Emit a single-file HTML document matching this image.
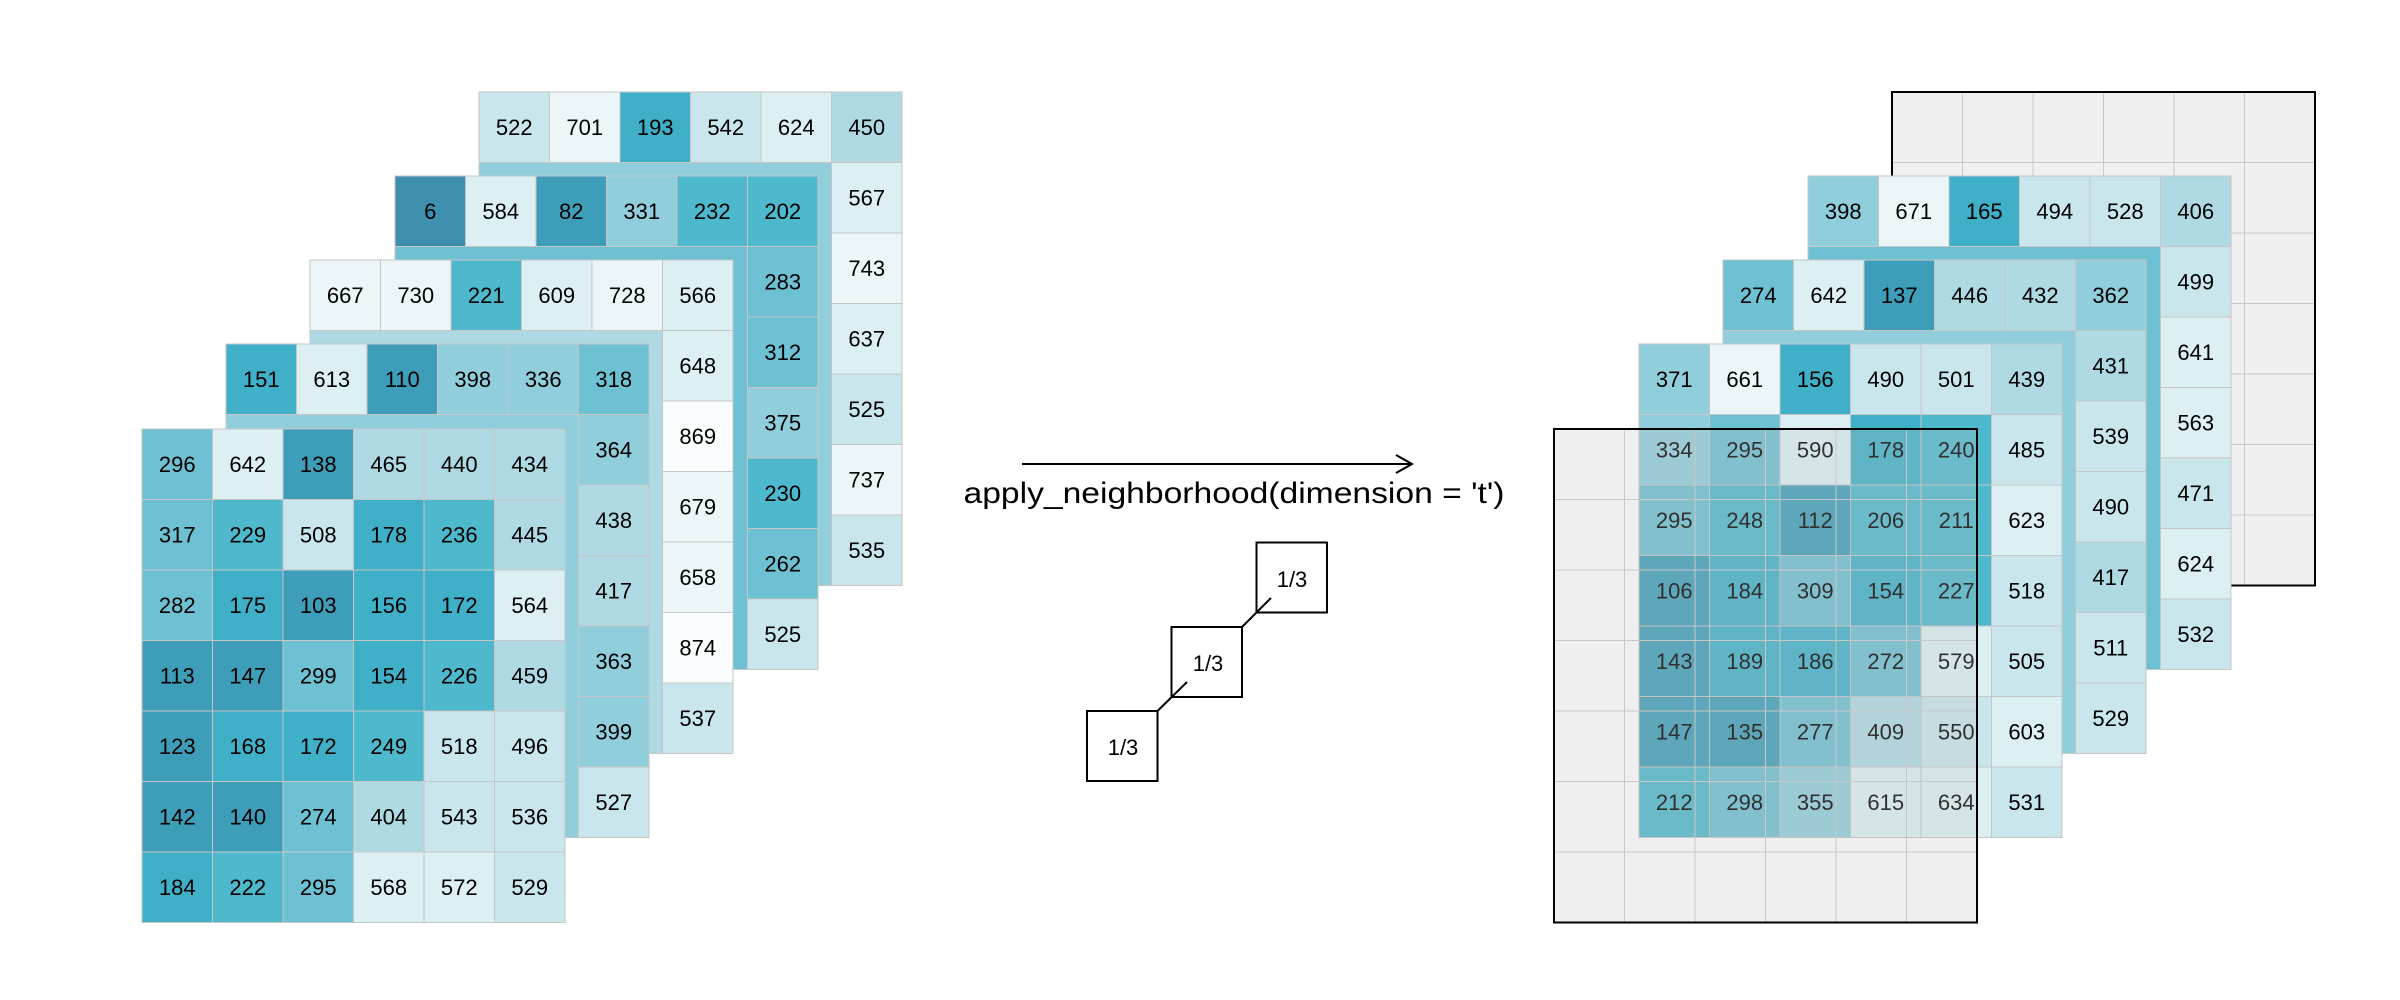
<!DOCTYPE html>
<html><head><meta charset="utf-8"><style>
html,body{margin:0;padding:0;background:#fff;}
svg{display:block;}
text{font-family:"Liberation Sans",sans-serif;font-size:22px;text-anchor:middle;fill:#000;}
.k rect{stroke:#c6c6c6;stroke-width:1;}
.c0{fill:#3e8fae}.c1{fill:#3e9eb9}.c2{fill:#3fb0c8}.c3{fill:#4eb9cc}.c4{fill:#6ec1d3}.c5{fill:#91cedc}.c6{fill:#afdae4}.c7{fill:#c9e6ec}.c8{fill:#dcf0f4}.c9{fill:#ecf6f9}.c10{fill:#fafdfe}
.bd{fill:none;stroke:#000;stroke-width:2}
.gl{stroke:#c8c8c8;stroke-width:1;fill:none}
</style></head><body>
<svg width="2400" height="1000" viewBox="0 0 2400 1000" xmlns="http://www.w3.org/2000/svg">
<defs>
<path id="grid" d="M70.5 0V493.5M141 0V493.5M211.5 0V493.5M282 0V493.5M352.5 0V493.5M0 70.5H423M0 141H423M0 211.5H423M0 282H423M0 352.5H423M0 423H423"/>
</defs>

<!-- LEFT L5 -->
<g class="k" transform="translate(479,92)">
<rect width="423" height="493.5" class="c5"/>
<rect x="0" y="0" width="70.5" height="70.5" class="c7"/><text x="35.25" y="43">522</text>
<rect x="70.5" y="0" width="70.5" height="70.5" class="c9"/><text x="105.75" y="43">701</text>
<rect x="141" y="0" width="70.5" height="70.5" class="c2"/><text x="176.25" y="43">193</text>
<rect x="211.5" y="0" width="70.5" height="70.5" class="c7"/><text x="246.75" y="43">542</text>
<rect x="282" y="0" width="70.5" height="70.5" class="c8"/><text x="317.25" y="43">624</text>
<rect x="352.5" y="0" width="70.5" height="70.5" class="c6"/><text x="387.75" y="43">450</text>
<rect x="352.5" y="70.5" width="70.5" height="70.5" class="c8"/><text x="387.75" y="113.5">567</text>
<rect x="352.5" y="141" width="70.5" height="70.5" class="c9"/><text x="387.75" y="184">743</text>
<rect x="352.5" y="211.5" width="70.5" height="70.5" class="c8"/><text x="387.75" y="254.5">637</text>
<rect x="352.5" y="282" width="70.5" height="70.5" class="c7"/><text x="387.75" y="325">525</text>
<rect x="352.5" y="352.5" width="70.5" height="70.5" class="c9"/><text x="387.75" y="395.5">737</text>
<rect x="352.5" y="423" width="70.5" height="70.5" class="c7"/><text x="387.75" y="466">535</text>
<rect width="423" height="493.5" class="bd"/>
</g>

<!-- LEFT L4 -->
<g class="k" transform="translate(395,176)">
<rect width="423" height="493.5" class="c4"/>
<rect x="0" y="0" width="70.5" height="70.5" class="c0"/><text x="35.25" y="43">6</text>
<rect x="70.5" y="0" width="70.5" height="70.5" class="c8"/><text x="105.75" y="43">584</text>
<rect x="141" y="0" width="70.5" height="70.5" class="c1"/><text x="176.25" y="43">82</text>
<rect x="211.5" y="0" width="70.5" height="70.5" class="c5"/><text x="246.75" y="43">331</text>
<rect x="282" y="0" width="70.5" height="70.5" class="c3"/><text x="317.25" y="43">232</text>
<rect x="352.5" y="0" width="70.5" height="70.5" class="c3"/><text x="387.75" y="43">202</text>
<rect x="352.5" y="70.5" width="70.5" height="70.5" class="c4"/><text x="387.75" y="113.5">283</text>
<rect x="352.5" y="141" width="70.5" height="70.5" class="c4"/><text x="387.75" y="184">312</text>
<rect x="352.5" y="211.5" width="70.5" height="70.5" class="c5"/><text x="387.75" y="254.5">375</text>
<rect x="352.5" y="282" width="70.5" height="70.5" class="c3"/><text x="387.75" y="325">230</text>
<rect x="352.5" y="352.5" width="70.5" height="70.5" class="c4"/><text x="387.75" y="395.5">262</text>
<rect x="352.5" y="423" width="70.5" height="70.5" class="c7"/><text x="387.75" y="466">525</text>
<rect width="423" height="493.5" class="bd"/>
</g>

<!-- LEFT L3 -->
<g class="k" transform="translate(310,260)">
<rect width="423" height="493.5" class="c6"/>
<rect x="0" y="0" width="70.5" height="70.5" class="c9"/><text x="35.25" y="43">667</text>
<rect x="70.5" y="0" width="70.5" height="70.5" class="c9"/><text x="105.75" y="43">730</text>
<rect x="141" y="0" width="70.5" height="70.5" class="c3"/><text x="176.25" y="43">221</text>
<rect x="211.5" y="0" width="70.5" height="70.5" class="c8"/><text x="246.75" y="43">609</text>
<rect x="282" y="0" width="70.5" height="70.5" class="c9"/><text x="317.25" y="43">728</text>
<rect x="352.5" y="0" width="70.5" height="70.5" class="c8"/><text x="387.75" y="43">566</text>
<rect x="352.5" y="70.5" width="70.5" height="70.5" class="c8"/><text x="387.75" y="113.5">648</text>
<rect x="352.5" y="141" width="70.5" height="70.5" class="c10"/><text x="387.75" y="184">869</text>
<rect x="352.5" y="211.5" width="70.5" height="70.5" class="c9"/><text x="387.75" y="254.5">679</text>
<rect x="352.5" y="282" width="70.5" height="70.5" class="c9"/><text x="387.75" y="325">658</text>
<rect x="352.5" y="352.5" width="70.5" height="70.5" class="c10"/><text x="387.75" y="395.5">874</text>
<rect x="352.5" y="423" width="70.5" height="70.5" class="c7"/><text x="387.75" y="466">537</text>
<rect width="423" height="493.5" class="bd"/>
</g>

<!-- LEFT L2 -->
<g class="k" transform="translate(226,344)">
<rect width="423" height="493.5" class="c5"/>
<rect x="0" y="0" width="70.5" height="70.5" class="c2"/><text x="35.25" y="43">151</text>
<rect x="70.5" y="0" width="70.5" height="70.5" class="c8"/><text x="105.75" y="43">613</text>
<rect x="141" y="0" width="70.5" height="70.5" class="c1"/><text x="176.25" y="43">110</text>
<rect x="211.5" y="0" width="70.5" height="70.5" class="c5"/><text x="246.75" y="43">398</text>
<rect x="282" y="0" width="70.5" height="70.5" class="c5"/><text x="317.25" y="43">336</text>
<rect x="352.5" y="0" width="70.5" height="70.5" class="c4"/><text x="387.75" y="43">318</text>
<rect x="352.5" y="70.5" width="70.5" height="70.5" class="c5"/><text x="387.75" y="113.5">364</text>
<rect x="352.5" y="141" width="70.5" height="70.5" class="c6"/><text x="387.75" y="184">438</text>
<rect x="352.5" y="211.5" width="70.5" height="70.5" class="c6"/><text x="387.75" y="254.5">417</text>
<rect x="352.5" y="282" width="70.5" height="70.5" class="c5"/><text x="387.75" y="325">363</text>
<rect x="352.5" y="352.5" width="70.5" height="70.5" class="c5"/><text x="387.75" y="395.5">399</text>
<rect x="352.5" y="423" width="70.5" height="70.5" class="c7"/><text x="387.75" y="466">527</text>
<rect width="423" height="493.5" class="bd"/>
</g>

<!-- LEFT L1 -->
<g class="k" transform="translate(142,429)">
<rect x="0" y="0" width="70.5" height="70.5" class="c4"/><text x="35.25" y="43">296</text>
<rect x="70.5" y="0" width="70.5" height="70.5" class="c8"/><text x="105.75" y="43">642</text>
<rect x="141" y="0" width="70.5" height="70.5" class="c1"/><text x="176.25" y="43">138</text>
<rect x="211.5" y="0" width="70.5" height="70.5" class="c6"/><text x="246.75" y="43">465</text>
<rect x="282" y="0" width="70.5" height="70.5" class="c6"/><text x="317.25" y="43">440</text>
<rect x="352.5" y="0" width="70.5" height="70.5" class="c6"/><text x="387.75" y="43">434</text>
<rect x="0" y="70.5" width="70.5" height="70.5" class="c4"/><text x="35.25" y="113.5">317</text>
<rect x="70.5" y="70.5" width="70.5" height="70.5" class="c3"/><text x="105.75" y="113.5">229</text>
<rect x="141" y="70.5" width="70.5" height="70.5" class="c7"/><text x="176.25" y="113.5">508</text>
<rect x="211.5" y="70.5" width="70.5" height="70.5" class="c2"/><text x="246.75" y="113.5">178</text>
<rect x="282" y="70.5" width="70.5" height="70.5" class="c3"/><text x="317.25" y="113.5">236</text>
<rect x="352.5" y="70.5" width="70.5" height="70.5" class="c6"/><text x="387.75" y="113.5">445</text>
<rect x="0" y="141" width="70.5" height="70.5" class="c4"/><text x="35.25" y="184">282</text>
<rect x="70.5" y="141" width="70.5" height="70.5" class="c2"/><text x="105.75" y="184">175</text>
<rect x="141" y="141" width="70.5" height="70.5" class="c1"/><text x="176.25" y="184">103</text>
<rect x="211.5" y="141" width="70.5" height="70.5" class="c2"/><text x="246.75" y="184">156</text>
<rect x="282" y="141" width="70.5" height="70.5" class="c2"/><text x="317.25" y="184">172</text>
<rect x="352.5" y="141" width="70.5" height="70.5" class="c8"/><text x="387.75" y="184">564</text>
<rect x="0" y="211.5" width="70.5" height="70.5" class="c1"/><text x="35.25" y="254.5">113</text>
<rect x="70.5" y="211.5" width="70.5" height="70.5" class="c1"/><text x="105.75" y="254.5">147</text>
<rect x="141" y="211.5" width="70.5" height="70.5" class="c4"/><text x="176.25" y="254.5">299</text>
<rect x="211.5" y="211.5" width="70.5" height="70.5" class="c2"/><text x="246.75" y="254.5">154</text>
<rect x="282" y="211.5" width="70.5" height="70.5" class="c3"/><text x="317.25" y="254.5">226</text>
<rect x="352.5" y="211.5" width="70.5" height="70.5" class="c6"/><text x="387.75" y="254.5">459</text>
<rect x="0" y="282" width="70.5" height="70.5" class="c1"/><text x="35.25" y="325">123</text>
<rect x="70.5" y="282" width="70.5" height="70.5" class="c2"/><text x="105.75" y="325">168</text>
<rect x="141" y="282" width="70.5" height="70.5" class="c2"/><text x="176.25" y="325">172</text>
<rect x="211.5" y="282" width="70.5" height="70.5" class="c3"/><text x="246.75" y="325">249</text>
<rect x="282" y="282" width="70.5" height="70.5" class="c7"/><text x="317.25" y="325">518</text>
<rect x="352.5" y="282" width="70.5" height="70.5" class="c7"/><text x="387.75" y="325">496</text>
<rect x="0" y="352.5" width="70.5" height="70.5" class="c1"/><text x="35.25" y="395.5">142</text>
<rect x="70.5" y="352.5" width="70.5" height="70.5" class="c1"/><text x="105.75" y="395.5">140</text>
<rect x="141" y="352.5" width="70.5" height="70.5" class="c4"/><text x="176.25" y="395.5">274</text>
<rect x="211.5" y="352.5" width="70.5" height="70.5" class="c6"/><text x="246.75" y="395.5">404</text>
<rect x="282" y="352.5" width="70.5" height="70.5" class="c7"/><text x="317.25" y="395.5">543</text>
<rect x="352.5" y="352.5" width="70.5" height="70.5" class="c7"/><text x="387.75" y="395.5">536</text>
<rect x="0" y="423" width="70.5" height="70.5" class="c2"/><text x="35.25" y="466">184</text>
<rect x="70.5" y="423" width="70.5" height="70.5" class="c3"/><text x="105.75" y="466">222</text>
<rect x="141" y="423" width="70.5" height="70.5" class="c4"/><text x="176.25" y="466">295</text>
<rect x="211.5" y="423" width="70.5" height="70.5" class="c8"/><text x="246.75" y="466">568</text>
<rect x="282" y="423" width="70.5" height="70.5" class="c8"/><text x="317.25" y="466">572</text>
<rect x="352.5" y="423" width="70.5" height="70.5" class="c7"/><text x="387.75" y="466">529</text>
<rect width="423" height="493.5" class="bd"/>
</g>

<!-- MIDDLE -->
<line x1="1022" y1="464" x2="1411" y2="464" stroke="#000" stroke-width="2"/>
<polyline points="1396,455 1412,464 1396,473" fill="none" stroke="#000" stroke-width="2"/>
<text x="1234" y="503" style="font-size:30px" textLength="541" lengthAdjust="spacingAndGlyphs">apply_neighborhood(dimension = 't')</text>
<rect x="1256.5" y="542.5" width="70.5" height="70" fill="#fff" stroke="#000" stroke-width="2"/>
<rect x="1171.5" y="627" width="70.5" height="70" fill="#fff" stroke="#000" stroke-width="2"/>
<rect x="1087" y="711" width="70.5" height="70" fill="#fff" stroke="#000" stroke-width="2"/>
<line x1="1242" y1="627" x2="1271" y2="598" stroke="#000" stroke-width="2"/>
<line x1="1157.5" y1="711" x2="1187" y2="682" stroke="#000" stroke-width="2"/>
<text x="1292" y="587" style="font-size:22px">1/3</text>
<text x="1208" y="671" style="font-size:22px">1/3</text>
<text x="1123" y="755" style="font-size:22px">1/3</text>

<!-- RIGHT gray back -->
<g transform="translate(1892,92)">
<rect width="423" height="493.5" fill="#f0f0f0"/>
<use href="#grid" class="gl"/>
<rect width="423" height="493.5" class="bd"/>
</g>

<!-- RIGHT R3 -->
<g class="k" transform="translate(1808,176)">
<rect width="423" height="493.5" class="c4"/>
<rect x="0" y="0" width="70.5" height="70.5" class="c5"/><text x="35.25" y="43">398</text>
<rect x="70.5" y="0" width="70.5" height="70.5" class="c9"/><text x="105.75" y="43">671</text>
<rect x="141" y="0" width="70.5" height="70.5" class="c2"/><text x="176.25" y="43">165</text>
<rect x="211.5" y="0" width="70.5" height="70.5" class="c7"/><text x="246.75" y="43">494</text>
<rect x="282" y="0" width="70.5" height="70.5" class="c7"/><text x="317.25" y="43">528</text>
<rect x="352.5" y="0" width="70.5" height="70.5" class="c6"/><text x="387.75" y="43">406</text>
<rect x="352.5" y="70.5" width="70.5" height="70.5" class="c7"/><text x="387.75" y="113.5">499</text>
<rect x="352.5" y="141" width="70.5" height="70.5" class="c8"/><text x="387.75" y="184">641</text>
<rect x="352.5" y="211.5" width="70.5" height="70.5" class="c8"/><text x="387.75" y="254.5">563</text>
<rect x="352.5" y="282" width="70.5" height="70.5" class="c7"/><text x="387.75" y="325">471</text>
<rect x="352.5" y="352.5" width="70.5" height="70.5" class="c8"/><text x="387.75" y="395.5">624</text>
<rect x="352.5" y="423" width="70.5" height="70.5" class="c7"/><text x="387.75" y="466">532</text>
<rect width="423" height="493.5" class="bd"/>
</g>

<!-- RIGHT R2 -->
<g class="k" transform="translate(1723,260)">
<rect width="423" height="493.5" class="c5"/>
<rect x="0" y="0" width="70.5" height="70.5" class="c4"/><text x="35.25" y="43">274</text>
<rect x="70.5" y="0" width="70.5" height="70.5" class="c8"/><text x="105.75" y="43">642</text>
<rect x="141" y="0" width="70.5" height="70.5" class="c1"/><text x="176.25" y="43">137</text>
<rect x="211.5" y="0" width="70.5" height="70.5" class="c6"/><text x="246.75" y="43">446</text>
<rect x="282" y="0" width="70.5" height="70.5" class="c6"/><text x="317.25" y="43">432</text>
<rect x="352.5" y="0" width="70.5" height="70.5" class="c5"/><text x="387.75" y="43">362</text>
<rect x="352.5" y="70.5" width="70.5" height="70.5" class="c6"/><text x="387.75" y="113.5">431</text>
<rect x="352.5" y="141" width="70.5" height="70.5" class="c7"/><text x="387.75" y="184">539</text>
<rect x="352.5" y="211.5" width="70.5" height="70.5" class="c7"/><text x="387.75" y="254.5">490</text>
<rect x="352.5" y="282" width="70.5" height="70.5" class="c6"/><text x="387.75" y="325">417</text>
<rect x="352.5" y="352.5" width="70.5" height="70.5" class="c7"/><text x="387.75" y="395.5">511</text>
<rect x="352.5" y="423" width="70.5" height="70.5" class="c7"/><text x="387.75" y="466">529</text>
<rect width="423" height="493.5" class="bd"/>
</g>

<!-- RIGHT R1 -->
<g class="k" transform="translate(1639,344)">
<rect x="0" y="0" width="70.5" height="70.5" class="c5"/><text x="35.25" y="43">371</text>
<rect x="70.5" y="0" width="70.5" height="70.5" class="c9"/><text x="105.75" y="43">661</text>
<rect x="141" y="0" width="70.5" height="70.5" class="c2"/><text x="176.25" y="43">156</text>
<rect x="211.5" y="0" width="70.5" height="70.5" class="c7"/><text x="246.75" y="43">490</text>
<rect x="282" y="0" width="70.5" height="70.5" class="c7"/><text x="317.25" y="43">501</text>
<rect x="352.5" y="0" width="70.5" height="70.5" class="c6"/><text x="387.75" y="43">439</text>
<rect x="0" y="70.5" width="70.5" height="70.5" class="c5"/><text x="35.25" y="113.5">334</text>
<rect x="70.5" y="70.5" width="70.5" height="70.5" class="c4"/><text x="105.75" y="113.5">295</text>
<rect x="141" y="70.5" width="70.5" height="70.5" class="c8"/><text x="176.25" y="113.5">590</text>
<rect x="211.5" y="70.5" width="70.5" height="70.5" class="c2"/><text x="246.75" y="113.5">178</text>
<rect x="282" y="70.5" width="70.5" height="70.5" class="c3"/><text x="317.25" y="113.5">240</text>
<rect x="352.5" y="70.5" width="70.5" height="70.5" class="c7"/><text x="387.75" y="113.5">485</text>
<rect x="0" y="141" width="70.5" height="70.5" class="c4"/><text x="35.25" y="184">295</text>
<rect x="70.5" y="141" width="70.5" height="70.5" class="c3"/><text x="105.75" y="184">248</text>
<rect x="141" y="141" width="70.5" height="70.5" class="c1"/><text x="176.25" y="184">112</text>
<rect x="211.5" y="141" width="70.5" height="70.5" class="c3"/><text x="246.75" y="184">206</text>
<rect x="282" y="141" width="70.5" height="70.5" class="c3"/><text x="317.25" y="184">211</text>
<rect x="352.5" y="141" width="70.5" height="70.5" class="c8"/><text x="387.75" y="184">623</text>
<rect x="0" y="211.5" width="70.5" height="70.5" class="c1"/><text x="35.25" y="254.5">106</text>
<rect x="70.5" y="211.5" width="70.5" height="70.5" class="c2"/><text x="105.75" y="254.5">184</text>
<rect x="141" y="211.5" width="70.5" height="70.5" class="c4"/><text x="176.25" y="254.5">309</text>
<rect x="211.5" y="211.5" width="70.5" height="70.5" class="c2"/><text x="246.75" y="254.5">154</text>
<rect x="282" y="211.5" width="70.5" height="70.5" class="c3"/><text x="317.25" y="254.5">227</text>
<rect x="352.5" y="211.5" width="70.5" height="70.5" class="c7"/><text x="387.75" y="254.5">518</text>
<rect x="0" y="282" width="70.5" height="70.5" class="c1"/><text x="35.25" y="325">143</text>
<rect x="70.5" y="282" width="70.5" height="70.5" class="c2"/><text x="105.75" y="325">189</text>
<rect x="141" y="282" width="70.5" height="70.5" class="c2"/><text x="176.25" y="325">186</text>
<rect x="211.5" y="282" width="70.5" height="70.5" class="c4"/><text x="246.75" y="325">272</text>
<rect x="282" y="282" width="70.5" height="70.5" class="c8"/><text x="317.25" y="325">579</text>
<rect x="352.5" y="282" width="70.5" height="70.5" class="c7"/><text x="387.75" y="325">505</text>
<rect x="0" y="352.5" width="70.5" height="70.5" class="c1"/><text x="35.25" y="395.5">147</text>
<rect x="70.5" y="352.5" width="70.5" height="70.5" class="c1"/><text x="105.75" y="395.5">135</text>
<rect x="141" y="352.5" width="70.5" height="70.5" class="c4"/><text x="176.25" y="395.5">277</text>
<rect x="211.5" y="352.5" width="70.5" height="70.5" class="c6"/><text x="246.75" y="395.5">409</text>
<rect x="282" y="352.5" width="70.5" height="70.5" class="c7"/><text x="317.25" y="395.5">550</text>
<rect x="352.5" y="352.5" width="70.5" height="70.5" class="c8"/><text x="387.75" y="395.5">603</text>
<rect x="0" y="423" width="70.5" height="70.5" class="c3"/><text x="35.25" y="466">212</text>
<rect x="70.5" y="423" width="70.5" height="70.5" class="c4"/><text x="105.75" y="466">298</text>
<rect x="141" y="423" width="70.5" height="70.5" class="c5"/><text x="176.25" y="466">355</text>
<rect x="211.5" y="423" width="70.5" height="70.5" class="c8"/><text x="246.75" y="466">615</text>
<rect x="282" y="423" width="70.5" height="70.5" class="c8"/><text x="317.25" y="466">634</text>
<rect x="352.5" y="423" width="70.5" height="70.5" class="c7"/><text x="387.75" y="466">531</text>
<rect width="423" height="493.5" class="bd"/>
</g>

<!-- RIGHT gray front (translucent) -->
<g transform="translate(1554,429)">
<rect width="423" height="493.5" fill="#c0c0c0" fill-opacity="0.25"/>
<use href="#grid" class="gl"/>
<rect width="423" height="493.5" class="bd"/>
</g>
</svg>
</body></html>
